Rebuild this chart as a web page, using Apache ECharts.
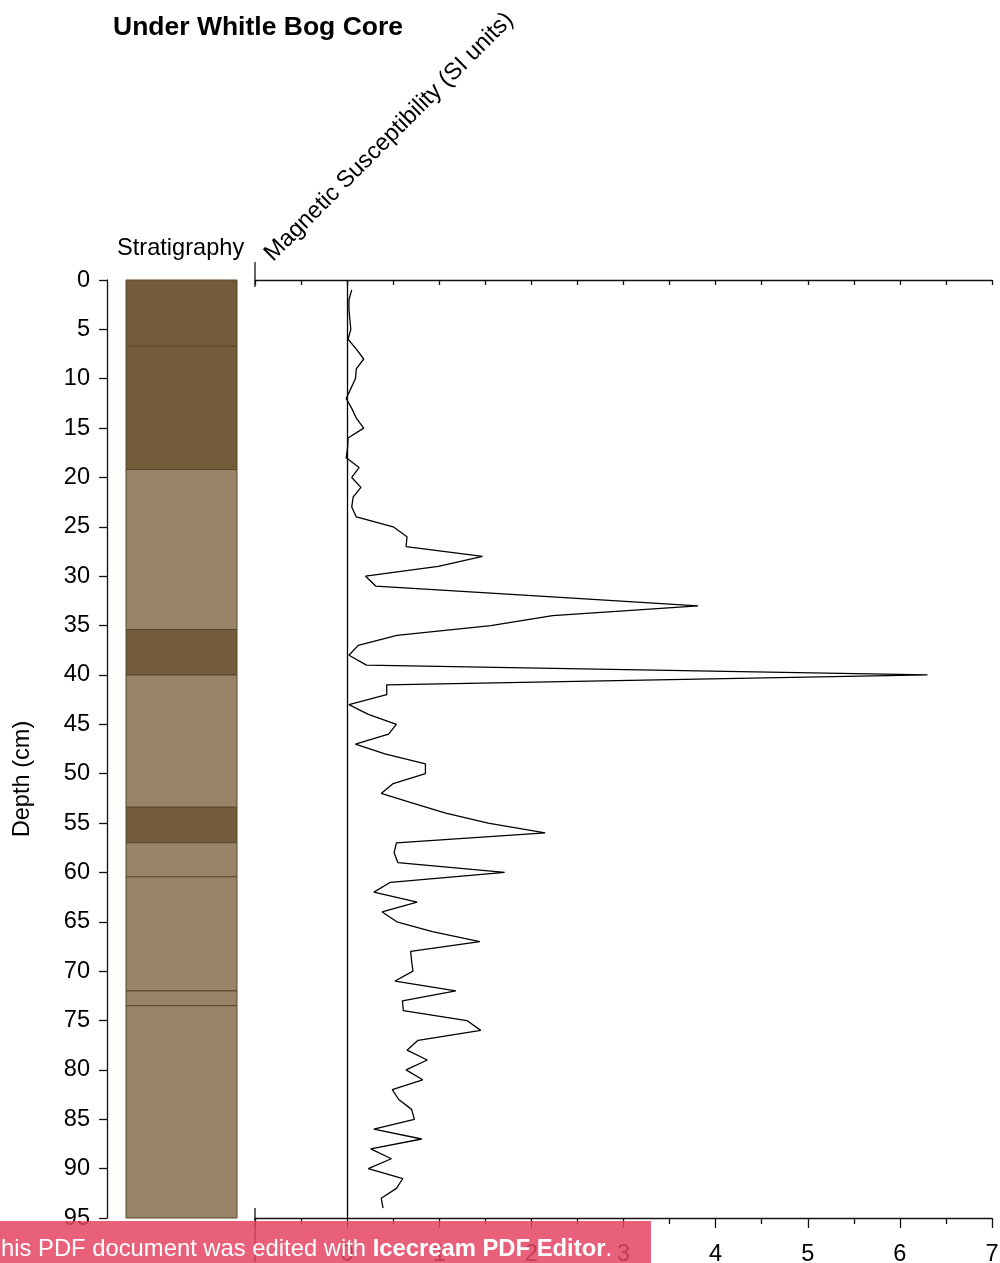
<!DOCTYPE html>
<html>
<head>
<meta charset="utf-8">
<title>Under Whitle Bog Core</title>
<script src="https://cdn.jsdelivr.net/npm/echarts@6/dist/echarts.min.js"></script>
<style>
  html, body { margin: 0; padding: 0; background: #fff; }
  #chart { width: 1000px; height: 1263px; }
</style>
</head>
<body>
<div id="chart"></div>
<script>
// Sample depths (cm) down the core
const depthCm = [
  1, 2, 3, 4, 5, 6, 7, 8, 9, 10,
  11, 12, 13, 14, 15, 16, 17, 18, 19, 20,
  21, 22, 23, 24, 25, 26, 27, 28, 29, 30,
  31, 32, 33, 34, 35, 36, 37, 38, 39, 40,
  41, 42, 43, 44, 45, 46, 47, 48, 49, 50,
  51, 52, 53, 54, 55, 56, 57, 58, 59, 60,
  61, 62, 63, 64, 65, 66, 67, 68, 69, 70,
  71, 72, 73, 74, 75, 76, 77, 78, 79, 80,
  81, 82, 83, 84, 85, 86, 87, 88, 89, 90,
  91, 92, 93, 94
];

// Magnetic susceptibility (SI units) at each depth
const susceptibility = [
  0.05, 0.02, 0.02, 0.03, 0.04, 0.01, 0.10, 0.18, 0.10, 0.09,
  0.04, -0.01, 0.05, 0.10, 0.18, 0.01, 0.005, -0.01, 0.13, 0.05,
  0.15, 0.065, 0.05, 0.10, 0.50, 0.65, 0.64, 1.47, 0.99, 0.20,
  0.31, 2.05, 3.81, 2.23, 1.56, 0.54, 0.12, 0.02, 0.21, 6.30,
  0.43, 0.43, 0.02, 0.23, 0.535, 0.45, 0.09, 0.41, 0.85, 0.85,
  0.50, 0.37, 0.72, 1.07, 1.53, 2.15, 0.535, 0.51, 0.55, 1.71,
  0.47, 0.29, 0.76, 0.38, 0.54, 0.925, 1.44, 0.69, 0.70, 0.715,
  0.52, 1.18, 0.60, 0.61, 1.30, 1.45, 0.77, 0.65, 0.87, 0.64,
  0.82, 0.49, 0.56, 0.70, 0.73, 0.29, 0.81, 0.256, 0.48, 0.23,
  0.605, 0.535, 0.37, 0.39
];

// Stratigraphic units (cm) and their sediment class
const layerTop    = [0,   6.7, 19.2, 35.4, 40.0, 53.4, 57.0, 60.45, 72.0, 73.5];
const layerBottom = [6.7, 19.2, 35.4, 40.0, 53.4, 57.0, 60.45, 72.0, 73.5, 95];
const layerType   = ['dark', 'dark', 'light', 'dark', 'light', 'dark', 'light', 'light', 'light', 'light'];

// Axis ranges and tick steps
const depthMin = 0, depthMax = 95, depthStep = 5;
const susMin = -1, susMax = 7, susStep = 1, susMinorStep = 0.5;

const FONT = '"Liberation Sans", Arial, sans-serif';
const TEXT_SIZE = 23.6;
const INK = '#111';
const layerFill = { dark: '#735c3a', light: '#978469' };

const chart = echarts.init(document.getElementById('chart'), null, { renderer: 'canvas' });

const axisLineStyle = { color: INK, width: 1.3 };

const option = {
  animation: false,
  backgroundColor: '#fff',
  title: {
    text: 'Under Whitle Bog Core',
    left: 113,
    top: 14,
    padding: 0,
    textStyle: { fontFamily: FONT, fontSize: 26.5, fontWeight: 'bold', color: '#000' }
  },
  grid: [
    { left: 126, top: 280, width: 111, height: 938, outerBoundsMode: 'none', containLabel: false },
    { left: 255, top: 280, width: 737, height: 938, outerBoundsMode: 'none', containLabel: false }
  ],
  xAxis: [
    { gridIndex: 0, type: 'value', min: 0, max: 1, show: false },
    {
      gridIndex: 1, type: 'value', position: 'top',
      min: susMin, max: susMax, interval: susMinorStep,
      axisLine: { show: true, onZero: false, lineStyle: axisLineStyle },
      axisTick: { show: true, inside: true, length: 5, lineStyle: axisLineStyle },
      axisLabel: { show: false },
      splitLine: { show: false }
    },
    {
      gridIndex: 1, type: 'value', position: 'bottom',
      min: susMin, max: susMax, interval: susStep,
      axisLine: { show: true, onZero: false, lineStyle: axisLineStyle },
      axisTick: { show: true, length: 10, lineStyle: axisLineStyle },
      minorTick: { show: true, splitNumber: 2, length: 6, lineStyle: axisLineStyle },
      axisLabel: {
        margin: 24,
        color: '#000',
        fontFamily: FONT,
        fontSize: TEXT_SIZE,
        formatter: v => (v < 0 ? '' : String(v))
      },
      splitLine: { show: false }
    }
  ],
  yAxis: [
    {
      gridIndex: 0, type: 'value', inverse: true,
      min: depthMin, max: depthMax, interval: depthStep,
      offset: 19,
      axisLine: { show: true, onZero: false, lineStyle: axisLineStyle },
      axisTick: { show: true, length: 8, lineStyle: axisLineStyle },
      axisLabel: { margin: 17, color: '#000', fontFamily: FONT, fontSize: TEXT_SIZE, padding: [4, 0, 0, 0] },
      splitLine: { show: false }
    },
    {
      gridIndex: 1, type: 'value', inverse: true,
      min: depthMin, max: depthMax, show: false
    }
  ],
  series: [
    {
      // stratigraphy column
      type: 'custom',
      xAxisIndex: 0,
      yAxisIndex: 0,
      silent: true,
      encode: { y: [0, 1] },
      data: layerTop.map((t, i) => [t, layerBottom[i], i]),
      renderItem: (params, api) => {
        const idx = api.value(2);
        const p0 = api.coord([0, api.value(0)]);
        const p1 = api.coord([1, api.value(1)]);
        return {
          type: 'rect',
          shape: { x: p0[0], y: p0[1], width: p1[0] - p0[0], height: p1[1] - p0[1] },
          style: { fill: layerFill[layerType[idx]], stroke: '#5a4629', lineWidth: 1 }
        };
      }
    },
    {
      // magnetic susceptibility profile
      type: 'line',
      xAxisIndex: 2,
      yAxisIndex: 1,
      data: depthCm.map((d, i) => [susceptibility[i], d]),
      symbol: 'none',
      lineStyle: { color: '#000', width: 1.3 },
      markLine: {
        silent: true,
        symbol: 'none',
        label: { show: false },
        lineStyle: { color: '#000', width: 1.3, type: 'solid' },
        data: [{ xAxis: 0 }]
      }
    }
  ]
};

chart.setOption(option);

// Labels, axis end ticks and the editor banner, placed from the axis scales
const xLeft = chart.convertToPixel({ xAxisIndex: 1 }, susMin);
const yTop = chart.convertToPixel({ yAxisIndex: 1 }, depthMin);
const yBottom = chart.convertToPixel({ yAxisIndex: 1 }, depthMax);

chart.setOption({
  graphic: [
    {
      type: 'text', left: 117, top: 236,
      style: { text: 'Stratigraphy', fill: '#000', font: `${TEXT_SIZE}px ${FONT}` }
    },
    {
      type: 'text', x: 277, y: 266, rotation: Math.PI / 4,
      style: {
        text: 'Magnetic Susceptibility (SI units)', fill: '#000',
        font: `${TEXT_SIZE}px ${FONT}`, textAlign: 'left', textVerticalAlign: 'bottom'
      }
    },
    {
      type: 'text', x: 22, y: 779, rotation: Math.PI / 2,
      style: {
        text: 'Depth (cm)', fill: '#000',
        font: `${TEXT_SIZE}px ${FONT}`, textAlign: 'center', textVerticalAlign: 'middle'
      }
    },
    {
      type: 'line', silent: true,
      shape: { x1: xLeft, y1: yTop - 18, x2: xLeft, y2: yTop + 7 },
      style: { stroke: INK, lineWidth: 1.3 }
    },
    {
      type: 'line', silent: true,
      shape: { x1: xLeft, y1: yBottom - 10, x2: xLeft, y2: yBottom + 44 },
      style: { stroke: INK, lineWidth: 1.3 }
    },
    {
      type: 'rect', z: 100, silent: true,
      shape: { x: 0, y: 1221, width: 651, height: 42 },
      style: { fill: 'rgba(228,68,99,0.85)' }
    },
    {
      type: 'text', z: 101, x: 1, y: 1249, silent: true,
      style: {
        text: '{r|his PDF document was edited with }{b|Icecream PDF Editor}{r|.}',
        fill: '#fff',
        textVerticalAlign: 'middle',
        rich: {
          r: { fontFamily: FONT, fontSize: 23.8, fill: '#fff' },
          b: { fontFamily: FONT, fontSize: 23.8, fontWeight: 'bold', fill: '#fff' }
        }
      }
    }
  ]
});
</script>
</body>
</html>
